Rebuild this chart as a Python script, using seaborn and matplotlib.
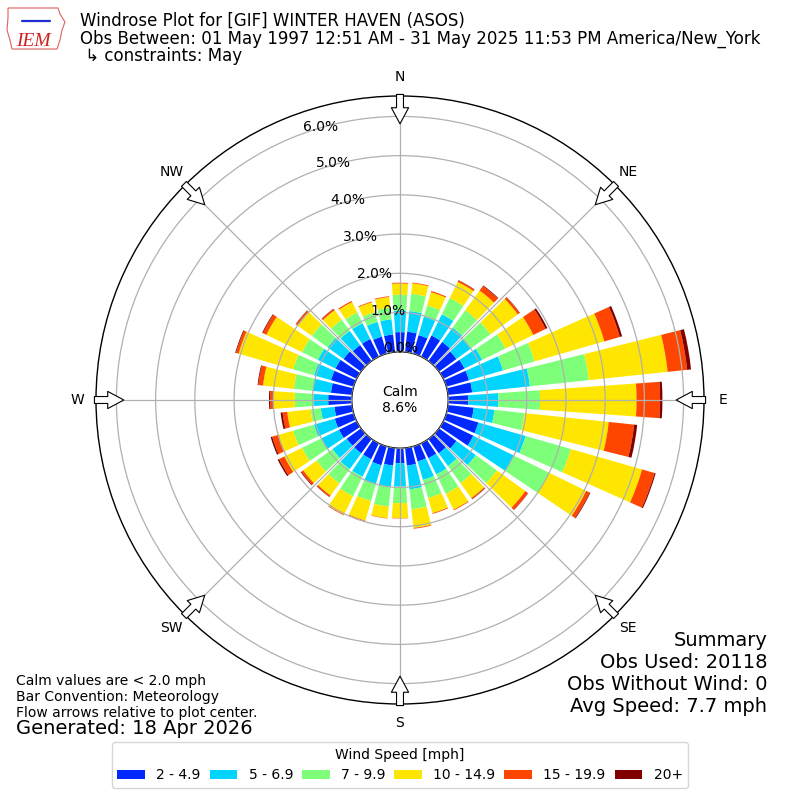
import numpy as np
import matplotlib
matplotlib.use("Agg")
import matplotlib.pyplot as plt
from matplotlib.patches import Patch, Polygon
from matplotlib.lines import Line2D
import seaborn as sns

# wind directions (deg, meteorological) and speed bins
directions = np.arange(0, 360, 10)
speed_bins = ["2 - 4.9", "5 - 6.9", "7 - 9.9", "10 - 14.9", "15 - 19.9", "20+"]
bin_colors = ["#0028ff", "#00d4ff", "#7dff7a", "#ffe600", "#ff4600", "#800000"]

# percent of observations per direction, one list per speed bin
pct_2_5 = [0.50, 0.52, 0.49, 0.60, 0.60, 0.55, 0.60, 0.60, 0.62, 0.51, 0.66, 0.85,
           0.85, 0.55, 0.45, 0.42, 0.40, 0.45, 0.38, 0.45, 0.50, 0.45, 0.45, 0.45,
           0.50, 0.50, 0.45, 0.60, 0.54, 0.60, 0.60, 0.55, 0.50, 0.50, 0.45, 0.45]
pct_5_7 = [0.55, 0.53, 0.49, 0.60, 0.45, 0.45, 0.50, 0.90, 1.48, 0.77, 0.53, 1.25,
           1.15, 0.61, 0.40, 0.46, 0.49, 0.61, 0.60, 0.55, 0.50, 0.50, 0.50, 0.45,
           0.50, 0.55, 0.35, 0.38, 0.47, 0.45, 0.50, 0.50, 0.45, 0.45, 0.39, 0.39]
pct_7_10 = [0.40, 0.44, 0.30, 0.46, 0.55, 0.62, 0.66, 0.84, 1.51, 1.06, 0.77, 1.20,
            1.00, 0.66, 0.54, 0.55, 0.48, 0.51, 0.42, 0.50, 0.45, 0.55, 0.45, 0.50,
            0.55, 0.55, 0.26, 0.47, 0.48, 0.55, 0.45, 0.50, 0.35, 0.30, 0.26, 0.30]
pct_10_15 = [0.29, 0.27, 0.35, 0.46, 0.62, 0.86, 0.79, 1.85, 2.02, 2.46, 2.16, 1.89,
             1.05, 0.90, 0.47, 0.45, 0.40, 0.48, 0.38, 0.30, 0.52, 0.52, 0.38, 0.42,
             0.50, 0.40, 0.60, 0.55, 0.79, 1.45, 1.01, 0.45, 0.30, 0.30, 0.26, 0.27]
pct_15_20 = [0.02, 0.02, 0.03, 0.04, 0.14, 0.06, 0.35, 0.41, 0.50, 0.60, 0.65, 0.33,
             0.10, 0.08, 0.03, 0.02, 0.02, 0.02, 0.01, 0.01, 0.02, 0.02, 0.04, 0.06,
             0.15, 0.16, 0.12, 0.08, 0.12, 0.07, 0.10, 0.05, 0.04, 0.03, 0.02, 0.02]
pct_20up = [0.00, 0.00, 0.00, 0.01, 0.02, 0.01, 0.05, 0.06, 0.10, 0.06, 0.08, 0.03,
            0.02, 0.01, 0.01, 0.00, 0.00, 0.00, 0.00, 0.00, 0.00, 0.00, 0.01, 0.02,
            0.04, 0.04, 0.05, 0.03, 0.02, 0.02, 0.02, 0.01, 0.01, 0.00, 0.00, 0.00]
calm_pct = 8.6

compass = ["N", "NE", "E", "SE", "S", "SW", "W", "NW"]
rticks = [0, 1, 2, 3, 4, 5, 6]
summary_lines = ["Summary", "Obs Used: 20118", "Obs Without Wind: 0", "Avg Speed: 7.7 mph"]

sns.set_style("white")
plt.rcParams["font.family"] = ["DejaVu Sans"]
plt.rcParams.update({"text.color": "black", "xtick.color": "black",
                     "ytick.color": "black", "axes.labelcolor": "black"})

fig = plt.figure(figsize=(8, 8), dpi=100)
ax = fig.add_axes([0.12, 0.12, 0.76, 0.76], projection="polar")
ax.set_theta_zero_location("N")
ax.set_theta_direction(-1)

theta = np.radians(directions)
width = np.radians(10) * 0.8
bottom = np.zeros(len(directions))
for vals, col in zip([pct_2_5, pct_5_7, pct_7_10, pct_10_15, pct_15_20, pct_20up], bin_colors):
    vals = np.array(vals)
    ax.bar(theta, vals, width=width, bottom=bottom, color=col, edgecolor="none", zorder=1)
    bottom += vals

ax.set_ylim(0, 6.52)
ax.set_rorigin(-1.23)
ax.set_axisbelow(False)
ax.set_yticks(rticks)
ax.set_yticklabels([f"{v:.1f}%" for v in rticks], fontsize=10)
ax.set_rlabel_position(340)
ax.set_xticks(np.radians(np.arange(0, 360, 45)))
ax.set_xticklabels(compass, fontsize=10)
ax.tick_params(axis="x", pad=3)
ax.grid(True, color="#b0b0b0", linewidth=0.9)
for sp in ax.spines.values():
    sp.set_color("black")
    sp.set_linewidth(1.0)

ax.text(0.5, 0.5, f"Calm\n{calm_pct}%", transform=ax.transAxes,
        ha="center", va="center", fontsize=10, zorder=6)

# flow arrows on the rim
for d in np.arange(0, 360, 45):
    ax.annotate("", xy=(np.radians(d), 5.81), xytext=(np.radians(d), 6.56),
                arrowprops=dict(arrowstyle="simple,head_length=0.58,head_width=0.62,tail_width=0.25",
                                fc="white", ec="black", lw=0.8, shrinkA=0, shrinkB=0,
                                mutation_scale=20),
                annotation_clip=False, zorder=7)

# rough IEM logo (state outline + text)
px = lambda x, y: (x / 800, 1 - y / 800)
outline = [px(8, 8), px(58, 8), px(60, 14), px(65, 22), px(62, 30), px(60, 40),
           px(57, 49), px(12, 49), px(10, 40), px(7, 30), px(8, 18)]
fig.add_artist(Polygon(outline, closed=True, fill=False, ec="#e06060", lw=0.8,
                       transform=fig.transFigure))
fig.add_artist(Line2D([22 / 800, 50 / 800], [1 - 21 / 800, 1 - 21 / 800], color="#2030d0",
                      lw=1.6, transform=fig.transFigure))
fig.text(0.02, 1 - 46 / 800, "IEM", fontsize=14, color="#d02020", style="italic",
         family="Liberation Serif", va="baseline")

# header
fig.text(0.1, 1 - 26 / 800, "Windrose Plot for [GIF] WINTER HAVEN (ASOS)", fontsize=12, va="baseline")
fig.text(0.1, 1 - 43.5 / 800,
         "Obs Between: 01 May 1997 12:51 AM - 31 May 2025 11:53 PM America/New_York",
         fontsize=12, va="baseline")
fig.text(0.1, 1 - 61 / 800, " \u21b3 constraints: May", fontsize=12, va="baseline")

# footer notes
fig.text(0.02, 1 - 685 / 800, "Calm values are < 2.0 mph", fontsize=10, va="baseline")
fig.text(0.02, 1 - 701 / 800, "Bar Convention: Meteorology", fontsize=10, va="baseline")
fig.text(0.02, 1 - 717 / 800, "Flow arrows relative to plot center.", fontsize=10, va="baseline")
fig.text(0.02, 1 - 734 / 800, "Generated: 18 Apr 2026", fontsize=14, va="baseline")

for i, line in enumerate(summary_lines):
    fig.text(0.959, 1 - (646 + 22 * i) / 800, line, fontsize=14, ha="right", va="baseline")

handles = [Patch(facecolor=c, edgecolor="none", label=l) for c, l in zip(bin_colors, speed_bins)]
fig.legend(handles=handles, loc="lower center", bbox_to_anchor=(0.5, 0.015), ncol=6,
           title="Wind Speed [mph]", fontsize=10, title_fontsize=10, borderaxespad=0,
           columnspacing=0.65)

fig.savefig("out.png", dpi=100)
